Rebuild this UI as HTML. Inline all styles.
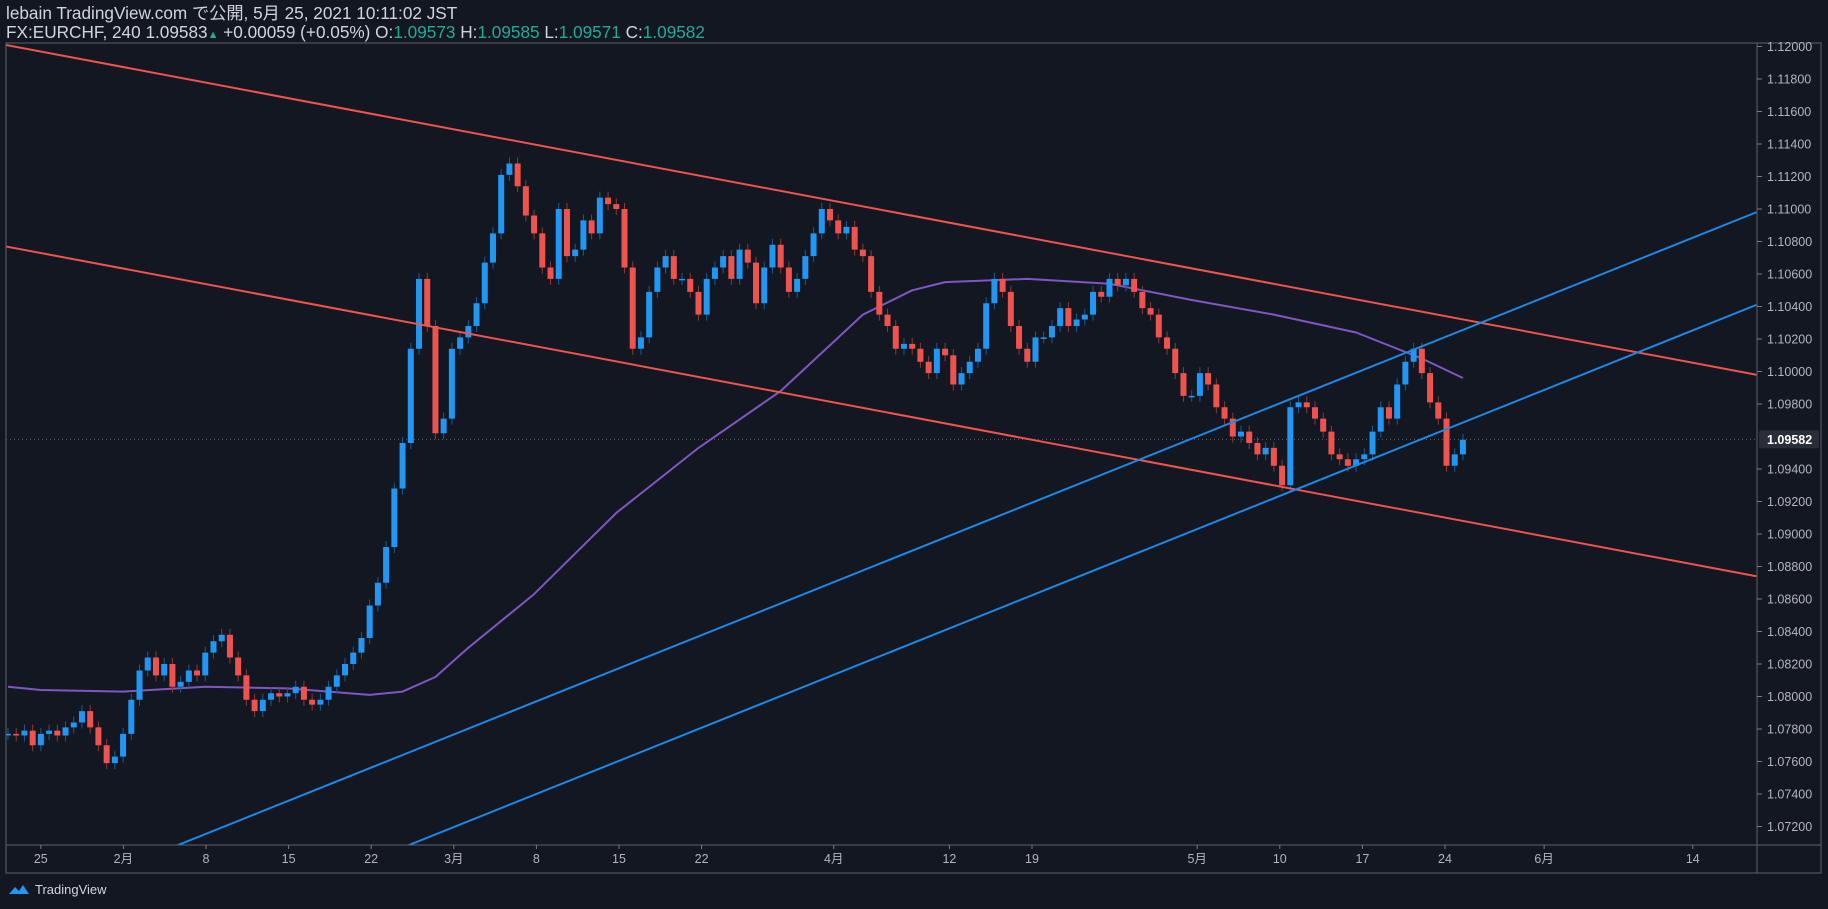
<!DOCTYPE html>
<html><head><meta charset="utf-8">
<style>
html,body{margin:0;padding:0;background:#131722;width:1828px;height:909px;overflow:hidden}
body{font-family:"Liberation Sans","Noto Sans CJK JP",sans-serif;color:#d1d4dc}
#hdr{position:absolute;left:6px;top:4px;font-size:17.2px;line-height:19px;white-space:nowrap}
.v{color:#22ab94}
#logo{position:absolute;left:9px;top:882px;font-size:13px;color:#d1d4dc;display:flex;align-items:center;gap:4px}
</style></head>
<body>
<div id="hdr">
<div>lebain TradingView.com で公開, 5月 25, 2021 10:11:02 JST</div>
<div>FX:EURCHF, 240 1.09583<span class="v" style="font-size:11px">▲</span> +0.00059 (+0.05%) O:<span class="v">1.09573</span> H:<span class="v">1.09585</span> L:<span class="v">1.09571</span> C:<span class="v">1.09582</span></div>
</div>
<svg id="chart" width="1828" height="909" style="position:absolute;left:0;top:0"></svg>
<div id="logo"><svg width="22" height="12" viewBox="0 0 22 12"><path d="M0 10 L6 3 L10 7 L14 1 L20 10 Z" fill="#2196f3"/></svg>TradingView</div>
<script>
const closes=[1.0777,1.0776,1.0779,1.0770,
1.0777,1.0779,1.0776,1.0781,1.0784,1.0791,1.0781,1.0770,1.0759,1.0763,
1.0777,1.0798,1.0816,1.0824,1.0813,1.0820,1.0806,1.0809,1.0816,1.0813,
1.0827,1.0834,1.0838,1.0824,1.0813,1.0798,1.0791,1.0798,1.0802,1.0800,
1.0802,1.0806,1.0798,1.0795,1.0798,1.0806,1.0813,1.0820,1.0827,1.0836,
1.0856,1.0870,1.0892,1.0928,1.0956,1.1014,1.1057,1.1028,1.0962,1.0971,
1.1014,1.1021,1.1028,1.1042,1.1067,1.1085,1.1121,1.1128,1.1114,1.1096,
1.1085,1.1064,1.1057,1.1100,1.1071,1.1075,1.1093,1.1085,1.1107,1.1103,
1.1100,1.1064,1.1014,1.1021,1.1049,1.1064,1.1071,1.1057,1.1057,1.1049,
1.1035,1.1057,1.1064,1.1071,1.1057,1.1075,1.1067,1.1042,1.1064,1.1078,
1.1064,1.1049,1.1057,1.1071,1.1085,1.1100,1.1093,1.1085,1.1089,1.1075,
1.1071,1.1049,1.1035,1.1028,1.1014,1.1017,1.1014,1.1006,1.0999,1.1014,
1.1010,1.0992,1.0999,1.1006,1.1014,1.1042,1.1057,1.1049,1.1028,1.1014,
1.1006,1.1021,1.1021,1.1028,1.1039,1.1028,1.1032,1.1035,1.1049,1.1046,
1.1057,1.1053,1.1057,1.1049,1.1039,1.1035,1.1021,1.1014,1.0999,1.0985,
1.0985,1.0999,1.0992,1.0978,1.0971,1.0960,1.0963,1.0956,1.0949,1.0953,
1.0942,1.0930,1.0978,1.0981,1.0978,1.0971,1.0963,1.0949,1.0946,1.0942,
1.0946,1.0949,1.0963,1.0978,1.0971,1.0992,1.1006,1.1014,1.0999,1.0981,
1.0971,1.0942,1.0949,1.0958];
const maIdx=[0,4,14,24,34,44,48,52,56,64,74,84,94,104,110,114,124,134,144,154,164,172,177];
const maVals=[1.0806,1.0804,1.0803,1.0806,1.0805,1.0801,1.0803,1.0812,1.0830,1.0863,1.0913,1.0953,1.0988,1.1035,1.1050,1.1055,1.1057,1.1054,1.1044,1.1035,1.1024,1.1008,1.0996];
const trendStartI=[-0.3,-0.3,19.9,48.0];
const trendStartP=[1.1201,1.1077,1.0707,1.0707];
const trendEndI=[212.7,212.7,212.7,212.7];
const trendEndP=[1.0998,1.0874,1.1098,1.1041];
const trendColors=['#f05350','#f05350','#1e88e5','#1e88e5'];
const priceTicks=[1.072,1.074,1.076,1.078,1.080,1.082,1.084,1.086,1.088,1.090,1.092,1.094,1.098,1.100,1.102,1.104,1.106,1.108,1.110,1.112,1.114,1.116,1.118,1.120];
const dateLabels=['25','2月','8','15','22','3月','8','15','22','4月','12','19','5月','10','17','24','6月','14'];
const dateWeeks=[0,1,2,3,4,5,6,7,8,9,11,12,14,15,16,17,18,20];
const dateDays=[0,0,0,0,0,0,0,0,0,3,0,0,0,0,0,0,1,0];
const lastPrice=1.09582;

const NS='http://www.w3.org/2000/svg';
const svg=document.getElementById('chart');
const L=6,T=43,R=1757,B=845,R2=1821,B2=873;
function y(p){return 826.5-(p-1.072)*16250;}
function xi(i){return 8+8.22*i;}
function xd(w,d){return 40.8+82.6*w+16.52*d;}
function mk(tag,attrs,parent){const e=document.createElementNS(NS,tag);for(const k in attrs)e.setAttribute(k,attrs[k]);(parent||svg).appendChild(e);return e;}

const defs=mk('defs',{});
const cp=mk('clipPath',{id:'pc'},defs);
mk('rect',{x:L,y:T,width:R-L,height:B-T},cp);
const g=mk('g',{'clip-path':'url(#pc)'});



const lp=mk('line',{x1:L,x2:R,y1:y(lastPrice),y2:y(lastPrice),stroke:'#5d606b','stroke-dasharray':'1 3','stroke-width':1},g);



let d='';
maIdx.forEach((ix,k)=>{d+=(k?'L':'M')+xi(ix).toFixed(1)+' '+y(maVals[k]).toFixed(1);});
const ma=mk('path',{d:d,fill:'none',stroke:'#7e57c2','stroke-width':2,'stroke-linejoin':'round'},g);



for(let i=0;i<closes.length;i++){
  const c=closes[i];const o=i?closes[i-1]:c;
  const up=c>=o;const col=up?'#2196f3':'#ef5350';
  const top=y(Math.max(o,c)),bot=y(Math.min(o,c));
  const cx=xi(i);
  const w=mk('line',{x1:cx,x2:cx,y1:top-6,y2:bot+6,stroke:up?'#1d5a8f':'#8b3a3a','stroke-width':1},g);
  
  
  const r=mk('rect',{x:cx-3,y:top,width:6,height:Math.max(1.5,bot-top),fill:col},g);
  
  
}

for(let k=0;k<4;k++){
  const ln=mk('line',{x1:xi(trendStartI[k]),y1:y(trendStartP[k]),x2:xi(trendEndI[k]),y2:y(trendEndP[k]),stroke:trendColors[k],'stroke-width':2},g);
  
  
}
const fr=mk('path',{d:`M${L} ${T}H${R2}V${B2}H${L}Z M${R} ${T}V${B2} M${L} ${B}H${R2}`,fill:'none',stroke:'#5d606b','stroke-width':1});



priceTicks.forEach(p=>{
  const yy=y(p);
  const t=mk('line',{x1:R,x2:R+5,y1:yy,y2:yy,stroke:'#787b86'});
  
  
  const tx=mk('text',{x:R+10,y:yy+4.5,fill:'#b2b5be','font-size':12.5,'font-family':'Liberation Sans, sans-serif'});
  tx.textContent=p.toFixed(5);
  
  
});
const pb=mk('rect',{x:R+2,y:y(lastPrice)-9,width:60,height:18,rx:2,fill:'#2a2e39'});


const pt=mk('text',{x:R+10,y:y(lastPrice)+4.5,fill:'#ffffff','font-size':12.5,'font-weight':'bold','font-family':'Liberation Sans, sans-serif'});
pt.textContent=lastPrice.toFixed(5);



dateLabels.forEach((s,k)=>{
  const xx=xd(dateWeeks[k],dateDays[k]);
  const t=mk('line',{x1:xx,x2:xx,y1:B,y2:B+4,stroke:'#787b86'});
  
  
  const tx=mk('text',{x:xx,y:B+18,fill:'#b2b5be','font-size':12.5,'text-anchor':'middle','font-family':'Liberation Sans, Noto Sans CJK JP, sans-serif'});
  tx.textContent=s;
  
  
});
</script>
</body></html>
